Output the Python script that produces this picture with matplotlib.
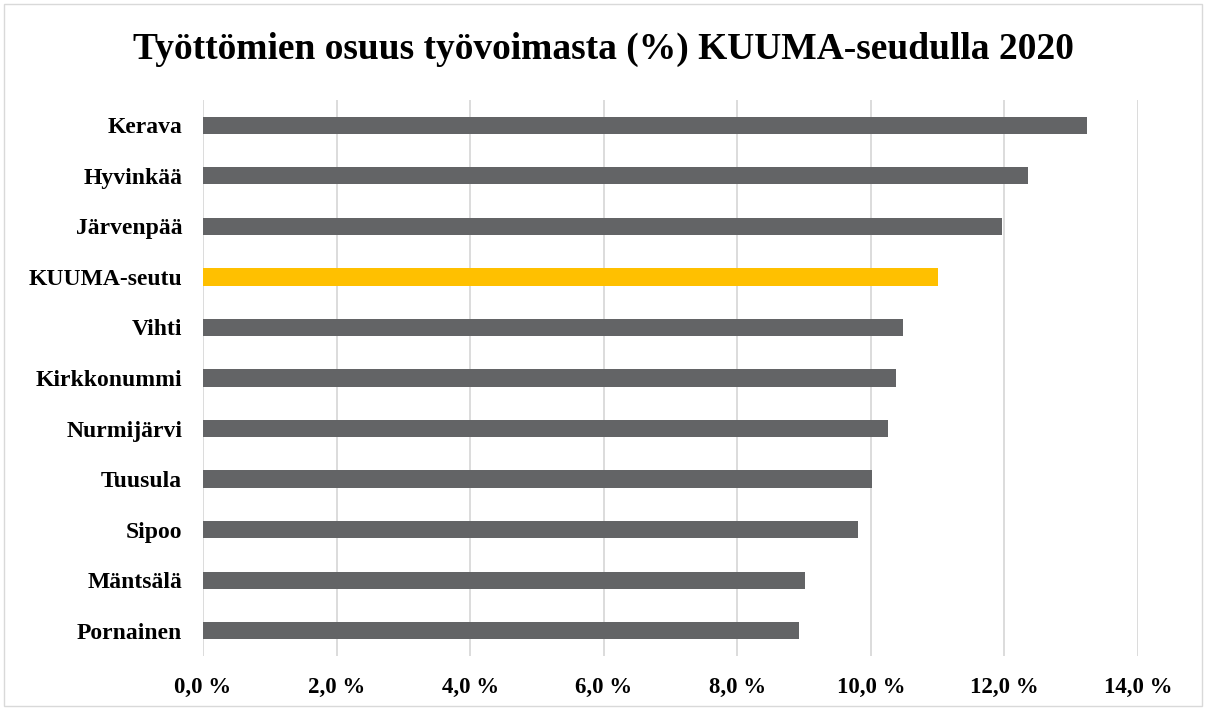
import matplotlib
matplotlib.use('Agg')
import matplotlib.pyplot as plt
from matplotlib.patches import Rectangle

# Data (top to bottom as shown)
regions = ['Kerava', 'Hyvinkää', 'Järvenpää', 'KUUMA-seutu', 'Vihti', 'Kirkkonummi',
           'Nurmijärvi', 'Tuusula', 'Sipoo', 'Mäntsälä', 'Pornainen']
unemployment = [13.23, 12.36, 11.97, 11.01, 10.48, 10.37, 10.25, 10.02, 9.80, 9.01, 8.93]
highlight = 'KUUMA-seutu'
xticks = [0, 2, 4, 6, 8, 10, 12, 14]

plt.rcParams['font.family'] = ['Liberation Serif', 'DejaVu Serif']

fig = plt.figure(figsize=(12.06, 7.10), dpi=100)
ax = fig.add_axes([203 / 1206, 1 - 656 / 710, (1138 - 203) / 1206, (656 - 100) / 710])

colors = ['#FFC000' if r == highlight else '#636466' for r in regions]
ypos = list(range(len(regions)))[::-1]
ax.barh(ypos, unemployment, height=0.34, color=colors, zorder=3)

ax.set_xlim(0, 14)
ax.set_ylim(-0.5, len(regions) - 0.5)
ax.set_xticks(xticks)
ax.set_xticklabels([f'{t:.1f} %'.replace('.', ',') for t in xticks],
                   fontsize=16.5, fontweight='bold')
ax.set_yticks(ypos)
ax.set_yticklabels(regions, fontsize=17, fontweight='bold')
ax.tick_params(axis='both', length=0)
ax.tick_params(axis='x', pad=15)
ax.tick_params(axis='y', pad=15)
ax.grid(axis='x', color='#D9D9D9', linewidth=1.3, zorder=0)
for s in ax.spines.values():
    s.set_visible(False)

fig.text(0.5, 1 - 49 / 710, 'Työttömien osuus työvoimasta (%) KUUMA-seudulla 2020',
         ha='center', va='center', fontsize=27, fontweight='bold')

# outer frame
fig.patches.append(Rectangle((4 / 1206, 4 / 710), 1 - 8 / 1206, 1 - 8 / 710,
                             transform=fig.transFigure, fill=False,
                             edgecolor='#D9D9D9', linewidth=1))

fig.savefig('out.png', dpi=100)
